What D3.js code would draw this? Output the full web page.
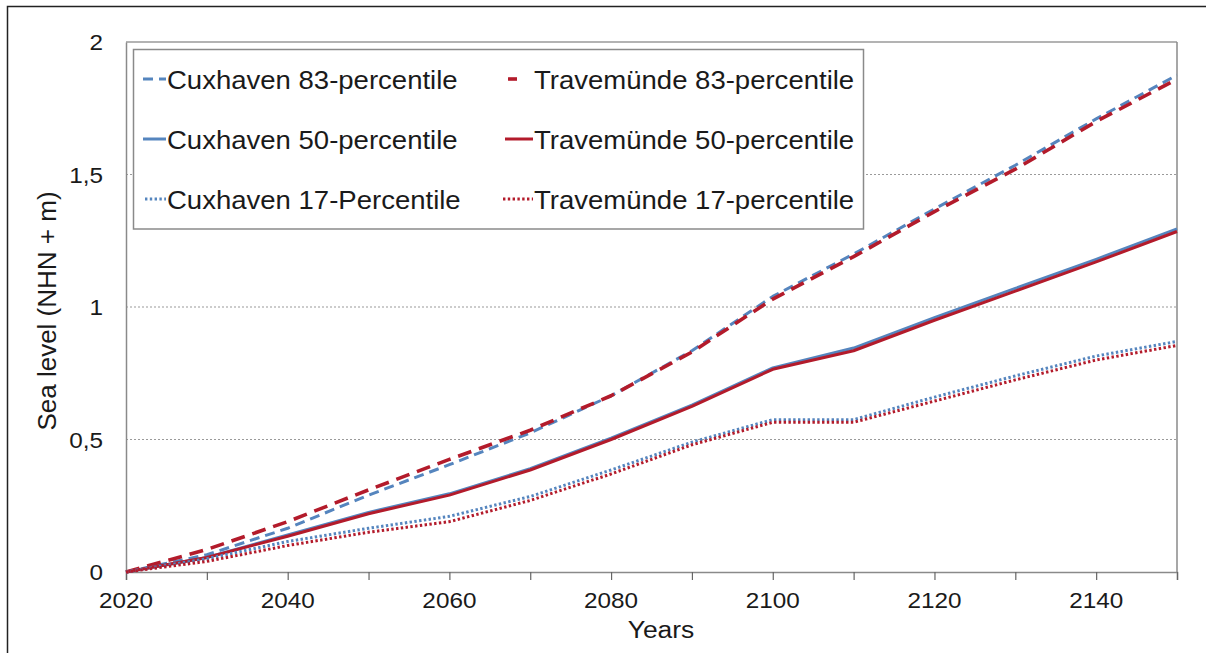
<!DOCTYPE html>
<html>
<head>
<meta charset="utf-8">
<script src="https://cdn.jsdelivr.net/npm/d3@7"></script>
<style>
  html, body { margin: 0; padding: 0; background: #fff; }
  svg { display: block; }
  text { font-family: "Liberation Sans", Arial, sans-serif; fill: #1a1a1a; }
</style>
</head>
<body>
<script>
// ---------- data ----------
const years = [2020, 2030, 2040, 2050, 2060, 2070, 2080, 2090, 2100, 2110, 2120, 2130, 2140, 2150];
const cuxhaven83 = [0, 0.065, 0.165, 0.29, 0.405, 0.525, 0.665, 0.835, 1.04, 1.20, 1.37, 1.535, 1.71, 1.875];
const cuxhaven50 = [0, 0.055, 0.14, 0.225, 0.295, 0.39, 0.505, 0.63, 0.77, 0.845, 0.96, 1.07, 1.18, 1.295];
const cuxhaven17 = [0, 0.05, 0.115, 0.165, 0.21, 0.285, 0.385, 0.49, 0.575, 0.575, 0.66, 0.74, 0.815, 0.87];
const travemuende83 = [0, 0.085, 0.19, 0.31, 0.425, 0.535, 0.665, 0.83, 1.03, 1.19, 1.36, 1.52, 1.70, 1.86];
const travemuende50 = [0, 0.055, 0.135, 0.22, 0.29, 0.385, 0.50, 0.625, 0.765, 0.835, 0.95, 1.06, 1.17, 1.285];
const travemuende17 = [0, 0.04, 0.10, 0.15, 0.19, 0.27, 0.37, 0.48, 0.565, 0.565, 0.645, 0.725, 0.80, 0.855];
const xTickValues = [2020, 2030, 2040, 2050, 2060, 2070, 2080, 2090, 2100, 2110, 2120, 2130, 2140, 2150];
const xTickLabels = [2020, 2040, 2060, 2080, 2100, 2120, 2140];
const yTickValues = [0, 0.5, 1, 1.5, 2];
const yTickLabels = ["0", "0,5", "1", "1,5", "2"];
const seriesNames = ["Cuxhaven 83-percentile", "Cuxhaven 50-percentile", "Cuxhaven 17-Percentile",
                     "Travemünde 83-percentile", "Travemünde 50-percentile", "Travemünde 17-percentile"];
const xTitle = "Years";
const yTitle = "Sea level (NHN + m)";

// ---------- styles ----------
const BLUE = "#5585be", RED = "#b31b2b";
const styles = [
  { color: BLUE, width: 3, dash: "10,6" },
  { color: BLUE, width: 3, dash: null },
  { color: BLUE, width: 3, dash: "2.4,2.4" },
  { color: RED, width: 3.6, dash: "14,8" },
  { color: RED, width: 3, dash: null },
  { color: RED, width: 3, dash: "2.4,2.4" }
];
const seriesData = [cuxhaven83, cuxhaven50, cuxhaven17, travemuende83, travemuende50, travemuende17];

const W = 1206, H = 653;
const plot = { left: 126, right: 1177, top: 42, bottom: 572 };
const SX = 1.08; // horizontal text stretch of the reference

const svg = d3.select("body").append("svg").attr("width", W).attr("height", H);

// outer frame
svg.append("rect").attr("x", 7.5).attr("y", 6.5).attr("width", W + 20).attr("height", H + 20)
  .attr("fill", "none").attr("stroke", "#222").attr("stroke-width", 1.5);

const x = d3.scaleLinear().domain([2020, 2150]).range([plot.left, plot.right]);
const y = d3.scaleLinear().domain([0, 2]).range([plot.bottom, plot.top]);

// gridlines
svg.append("g").selectAll("line").data(yTickValues.filter(v => v > 0 && v < 2)).join("line")
  .attr("x1", plot.left).attr("x2", plot.right)
  .attr("y1", d => y(d)).attr("y2", d => y(d))
  .attr("stroke", "#9a9a9a").attr("stroke-width", 1.2).attr("stroke-dasharray", "2,2");

// plot border (top, right)
svg.append("line").attr("x1", plot.left).attr("x2", plot.right).attr("y1", plot.top).attr("y2", plot.top)
  .attr("stroke", "#9a9a9a").attr("stroke-width", 1.5);
svg.append("line").attr("x1", plot.right).attr("x2", plot.right).attr("y1", plot.top).attr("y2", plot.bottom)
  .attr("stroke", "#8a8a8a").attr("stroke-width", 1.5);

// axes
const xAxis = d3.axisBottom(x).tickValues(xTickValues).tickSize(8).tickFormat("");
const gx = svg.append("g").attr("transform", `translate(0,${plot.bottom})`).call(xAxis);
gx.select(".domain").attr("stroke", "#8a8a8a").attr("stroke-width", 1.5);
gx.selectAll(".tick line").attr("stroke", "#666").attr("stroke-width", 1.2);

const yAxis = d3.axisLeft(y).tickValues(yTickValues).tickSize(0).tickFormat("");
const gy = svg.append("g").attr("transform", `translate(${plot.left},0)`).call(yAxis);
gy.select(".domain").attr("stroke", "#8a8a8a").attr("stroke-width", 1.5);

// tick labels
svg.append("g").selectAll("text").data(xTickLabels).join("text")
  .attr("transform", d => `translate(${x(d)},608) scale(${SX},1)`)
  .attr("text-anchor", "middle").attr("font-size", 22.5).text(d => d);
svg.append("g").selectAll("text").data(yTickValues).join("text")
  .attr("transform", d => `translate(103,${y(d) + 8}) scale(${SX},1)`)
  .attr("text-anchor", "end").attr("font-size", 22.5).text((d, i) => yTickLabels[i]);

// axis titles
svg.append("text").attr("transform", `translate(661,638) scale(${SX},1)`)
  .attr("text-anchor", "middle").attr("font-size", 24.5).text(xTitle);
svg.append("text").attr("transform", "translate(56,311) rotate(-90)")
  .attr("text-anchor", "middle").attr("font-size", 26).text(yTitle);

// lines
const line = d3.line().x((d, i) => x(years[i])).y(d => y(d));
const drawOrder = [0, 3, 1, 4, 2, 5];
svg.append("g").selectAll("path").data(drawOrder).join("path")
  .attr("d", i => line(seriesData[i]))
  .attr("fill", "none")
  .attr("stroke", i => styles[i].color)
  .attr("stroke-width", i => styles[i].width)
  .attr("stroke-dasharray", i => styles[i].dash)
  .attr("stroke-linejoin", "round");

// legend
const leg = svg.append("g");
leg.append("rect").attr("x", 133.5).attr("y", 49.5).attr("width", 730).attr("height", 179.5)
  .attr("fill", "#fff").attr("stroke", "#8a8a8a").attr("stroke-width", 1.5);
const legLayout = [
  { x1: 143, x2: 166, tx: 167, y: 79 },
  { x1: 143, x2: 166, tx: 167, y: 139 },
  { x1: 145, x2: 166, tx: 167, y: 199 },
  { x1: 508, x2: 517, tx: 534, y: 79 },
  { x1: 505, x2: 533, tx: 534, y: 139 },
  { x1: 503, x2: 533, tx: 534, y: 199 }
];
seriesNames.forEach((name, i) => {
  const L = legLayout[i], s = styles[i];
  leg.append("line").attr("x1", L.x1).attr("x2", L.x2).attr("y1", L.y).attr("y2", L.y)
    .attr("stroke", s.color).attr("stroke-width", s.width)
    .attr("stroke-dasharray", i === 3 ? null : s.dash);
  leg.append("text").attr("transform", `translate(${L.tx},${L.y + 9.5}) scale(${SX},1)`)
    .attr("font-size", 25.5).text(name);
});
</script>
</body>
</html>
